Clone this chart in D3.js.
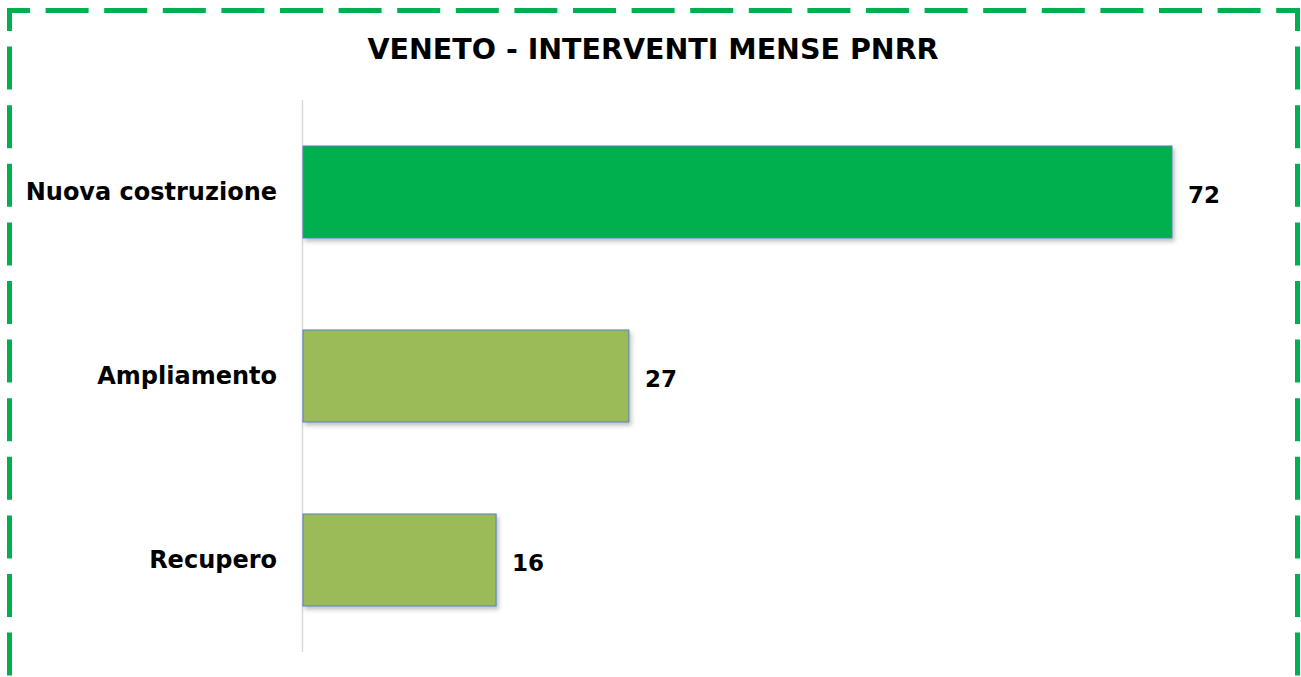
<!DOCTYPE html>
<html>
<head>
<meta charset="utf-8">
<script src="https://cdn.jsdelivr.net/npm/d3@7"></script>
<style>
  body { margin: 0; background: #fff; }
  svg { display: block; }
  text { font-family: "DejaVu Sans", sans-serif; font-weight: 700; fill: #000; }
</style>
</head>
<body>
<svg id="chart" width="1301" height="677"></svg>
<script>
var title = "VENETO - INTERVENTI MENSE PNRR";
var categories = ["Nuova costruzione", "Ampliamento", "Recupero"];
var values = [72, 27, 16];
var barColors = ["#00B050", "#9BBB59", "#9BBB59"];

var W = 1301, H = 677,
    margin = { top: 100, left: 303, bottom: 25 },
    plotH = H - margin.top - margin.bottom;

var svg = d3.select("#chart");

// drop shadow for bars
var defs = svg.append("defs");
var f = defs.append("filter").attr("id", "shadow")
    .attr("x", "-5%").attr("y", "-5%").attr("width", "110%").attr("height", "120%");
f.append("feDropShadow").attr("dx", 2).attr("dy", 3).attr("stdDeviation", 2)
    .attr("flood-color", "#000").attr("flood-opacity", 0.25);

// dashed frame, one line per side so the corners start with a dash
var green = "#00B050", dash = "43,15.6";
var frame = svg.append("g").attr("class", "frame")
    .attr("stroke", green).attr("stroke-width", 5).attr("fill", "none")
    .attr("stroke-dasharray", dash).attr("stroke-dashoffset", 20);
frame.append("line").attr("x1", 7).attr("y1", 10.5).attr("x2", 1300).attr("y2", 10.5);
frame.append("line").attr("x1", 1297.5).attr("y1", 8).attr("x2", 1297.5).attr("y2", 700);
frame.append("line").attr("x1", 9.5).attr("y1", 8).attr("x2", 9.5).attr("y2", 700);

svg.append("text")
    .attr("x", 653).attr("y", 58.5)
    .attr("text-anchor", "middle")
    .style("font-size", "28.5px")
    .text(title);

var x = d3.scaleLinear().domain([0, 72]).range([margin.left, 1172]);
var y = d3.scaleBand().domain(categories)
    .range([margin.top, margin.top + plotH])
    .paddingInner(0.5).paddingOuter(0.25);

// vertical axis line
svg.append("line")
    .attr("x1", 302.5).attr("x2", 302.5)
    .attr("y1", margin.top).attr("y2", margin.top + plotH)
    .attr("stroke", "#d9d9d9").attr("stroke-width", 1.5);

var rows = svg.append("g").selectAll("g")
    .data(categories)
    .enter().append("g");

rows.append("rect")
    .attr("x", x(0))
    .attr("y", function (d) { return y(d); })
    .attr("width", function (d, i) { return x(values[i]) - x(0); })
    .attr("height", y.bandwidth())
    .attr("fill", function (d, i) { return barColors[i]; })
    .attr("stroke", "#4F81BD").attr("stroke-width", 1)
    .attr("filter", "url(#shadow)");

rows.append("text")
    .attr("x", 277)
    .attr("y", function (d) { return y(d) + y.bandwidth() / 2 + 7.5; })
    .attr("text-anchor", "end")
    .style("font-size", "24px")
    .text(function (d) { return d; });

rows.append("text")
    .attr("x", function (d, i) { return x(values[i]) + 16; })
    .attr("y", function (d) { return y(d) + y.bandwidth() / 2 + 10.5; })
    .style("font-size", "23px")
    .text(function (d, i) { return values[i]; });
</script>
</body>
</html>
